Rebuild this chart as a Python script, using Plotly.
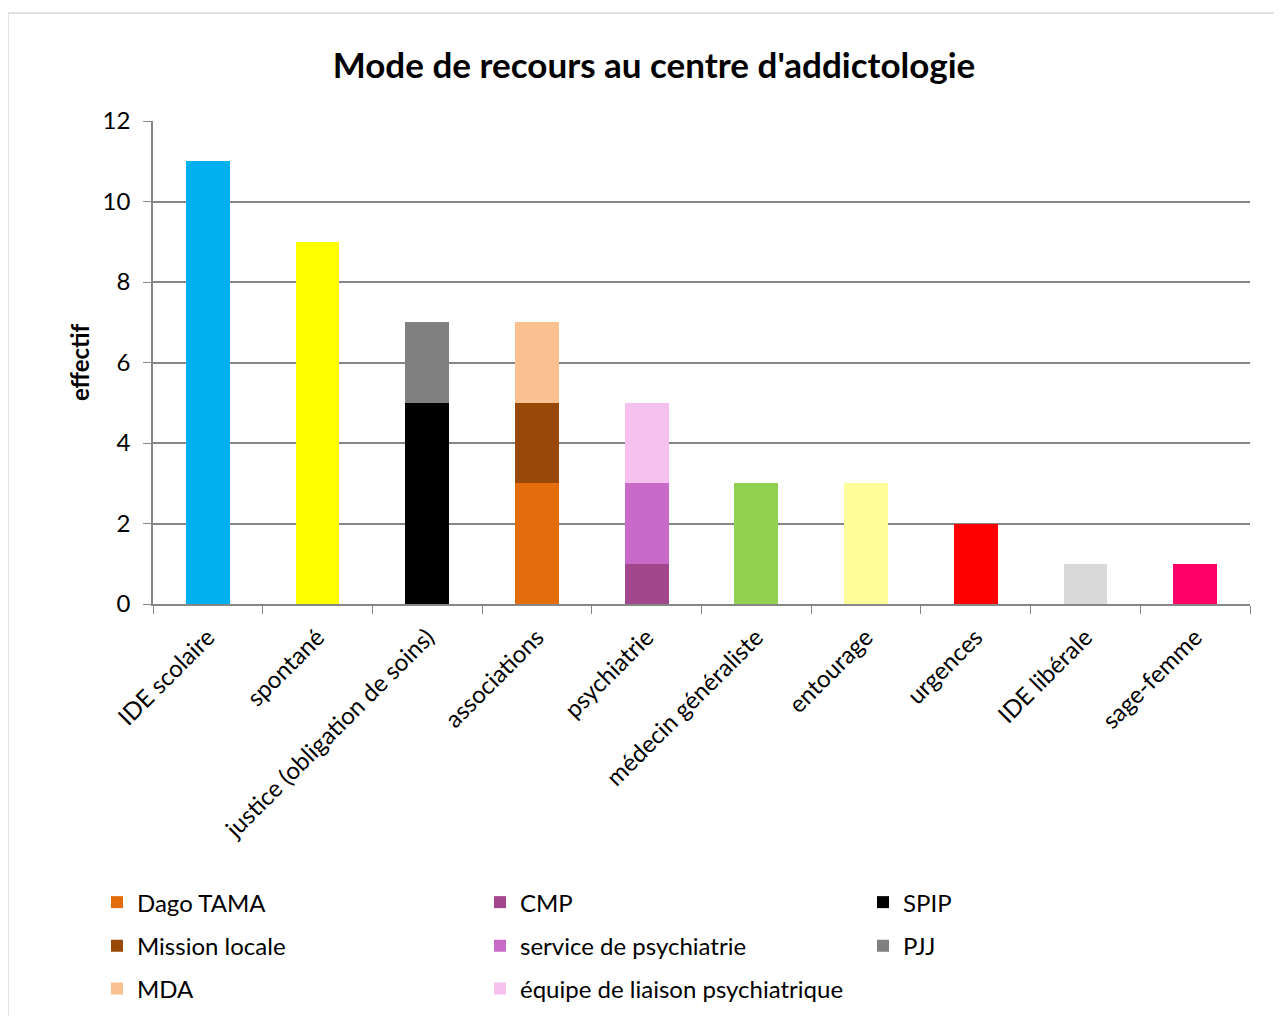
import plotly.graph_objects as go

categories = ["IDE scolaire", "spontané", "justice (obligation de soins)", "associations",
              "psychiatrie", "médecin généraliste", "entourage", "urgences",
              "IDE libérale", "sage-femme"]

# single-colour bars (no legend entry)
single_cats = ["IDE scolaire", "spontané", "médecin généraliste", "entourage",
               "urgences", "IDE libérale", "sage-femme"]
single_vals = [11, 9, 3, 3, 2, 1, 1]
single_colors = ["#00B0F0", "#FFFF00", "#92D050", "#FDFD99", "#FF0000", "#D9D9D9", "#FF0066"]

# stacked sub-series
series_names = ["Dago TAMA", "Mission locale", "MDA",
                "CMP", "service de psychiatrie", "équipe de liaison psychiatrique",
                "SPIP", "PJJ"]
series_cats = ["associations", "associations", "associations",
               "psychiatrie", "psychiatrie", "psychiatrie",
               "justice (obligation de soins)", "justice (obligation de soins)"]
series_vals = [3, 2, 2, 1, 2, 2, 5, 2]
series_colors = ["#E46C0A", "#984807", "#FAC090", "#A2478C", "#C86BC8", "#F6C1EE", "#000000", "#808080"]
# legend row and column of each series
series_row = [1, 2, 3, 1, 2, 3, 1, 2]
series_col = [0, 0, 0, 1, 1, 1, 2, 2]

FONT = "Lato"
fig = go.Figure()

fig.add_trace(go.Bar(x=single_cats, y=single_vals, marker=dict(color=single_colors, line=dict(width=0)),
                     showlegend=False, hoverinfo="x+y"))

legend_keys = {1: "legend", 2: "legend2", 3: "legend3"}
for name, cat, val, col, r, c in zip(series_names, series_cats, series_vals, series_colors, series_row, series_col):
    fig.add_trace(go.Bar(x=[cat], y=[val], name=name, marker=dict(color=col, line=dict(width=0)),
                         legend=legend_keys[r], legendrank=c + 1))

W, H = 1282, 1016
L, R, T, B = 145, 40, 113, 416
pw, ph = W - L - R, H - T - B

def px_x(x):  # figure-pixel x -> paper
    return (x - L) / pw

def px_y(y):  # figure-pixel y -> paper
    return (H - B - y) / ph

legend_common = dict(orientation="h", xanchor="left", yanchor="middle",
                     entrywidth=338, entrywidthmode="pixels",
                     font=dict(family=FONT, size=24, color="#000000"),
                     bgcolor="rgba(0,0,0,0)", traceorder="normal")

fig.update_layout(
    width=W, height=H,
    margin=dict(l=L, r=R, t=T, b=B),
    barmode="stack", bargap=0.6,
    plot_bgcolor="white", paper_bgcolor="white",
    font=dict(family=FONT, size=24, color="#000000"),
    title=dict(text="<b>Mode de recours au centre d'addictologie</b>",
               font=dict(family=FONT, size=35, color="#000000"),
               x=646 / W, xanchor="center", xref="container",
               y=1 - 58 / H, yanchor="middle", yref="container"),
    xaxis=dict(categoryorder="array", categoryarray=categories, tickangle=-45,
               tickson="boundaries", ticks="outside", ticklen=8, tickcolor="#868686",
               ticklabelstandoff=8,
               showline=True, linecolor="#868686", linewidth=1.5,
               tickfont=dict(family=FONT, size=24, color="#000000"), showgrid=False),
    yaxis=dict(range=[0, 12], dtick=2, ticks="outside", ticklen=8, tickcolor="#868686",
               ticklabelstandoff=8,
               showline=True, linecolor="#868686", linewidth=1.5,
               gridcolor="#868686", gridwidth=1.5, zeroline=False,
               tickfont=dict(family=FONT, size=24, color="#000000"),
               title=dict(text="<b>effectif</b>", font=dict(family=FONT, size=24, color="#000000"),
                          standoff=6)),
    legend=dict(x=px_x(89), y=px_y(901), **legend_common),
    legend2=dict(x=px_x(89), y=px_y(945), **legend_common),
    legend3=dict(x=px_x(89), y=px_y(988), **legend_common),
    shapes=[dict(type="rect", xref="paper", yref="paper",
                 x0=px_x(0), x1=px_x(1270), y0=px_y(1030), y1=px_y(4),
                 line=dict(color="#D9D9D9", width=1.5), fillcolor="rgba(0,0,0,0)", layer="below")],
)

fig.write_html("out.html")
